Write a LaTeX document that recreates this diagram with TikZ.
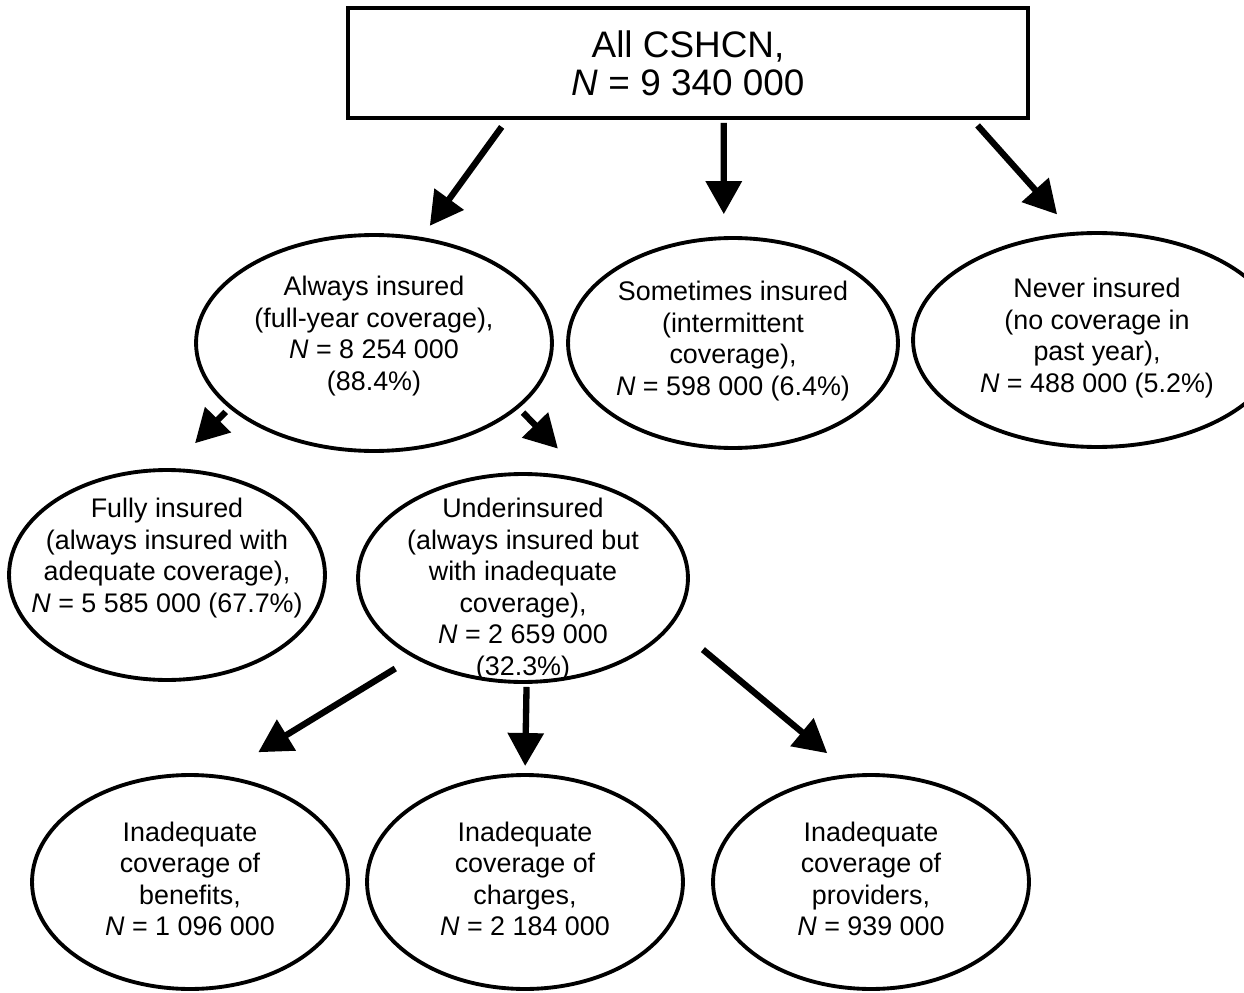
\documentclass[tikz,border=0pt]{standalone}
\usepackage{fontspec}
\setmainfont{Liberation Sans}
\usetikzlibrary{arrows.meta,shapes.geometric}

% Text in der Ellipse, ohne die Ellipse zu vergroessern
\newcommand{\ovaltext}[2][0cm]{\smash{\raisebox{#1}{\makebox[0pt]{\begin{tabular}{@{}c@{}}#2\end{tabular}}}}}

\tikzset{
	oval/.style={draw, ellipse, line width=2.2pt, inner sep=0pt, outer sep=0pt,
		font=\fontsize{15.3}{18}\selectfont},
	pfeil/.style={line width=3.6pt, -{Triangle[length=0.66cm, width=0.7cm]}},
}

\begin{document}
\begin{tikzpicture}[x=0.02cm, y=-0.02cm]
	\useasboundingbox (0,0) rectangle (1244,993);
	% Kasten oben
	\node[draw, line width=2.4pt, minimum width=13.6cm, minimum height=2.2cm,
	inner sep=0pt, outer sep=0pt, align=center,
	font=\fontsize{21}{21.5}\selectfont] (all) at (688,63) {All CSHCN,\\\textit{N} = 9 340 000};

	% Zweite Ebene
	\node[oval, minimum width=7.12cm, minimum height=4.32cm] (always) at (374,343)
	{\ovaltext{Always insured\\(full-year coverage),\\\textit{N} = 8 254 000\\(88.4\%)}};
	\node[oval, minimum width=6.6cm, minimum height=4.2cm] (sometimes) at (733,343)
	{\ovaltext[-0.1cm]{Sometimes insured\\(intermittent\\coverage),\\\textit{N} = 598 000 (6.4\%)}};
	\node[oval, minimum width=7.36cm, minimum height=4.28cm] (never) at (1097,340)
	{\ovaltext[-0.1cm]{Never insured\\(no coverage in\\past year),\\\textit{N} = 488 000 (5.2\%)}};

	% Dritte Ebene
	\node[oval, minimum width=6.32cm, minimum height=4.2cm] (fully) at (167,575)
	{\ovaltext[0.2cm]{Fully insured\\(always insured with\\adequate coverage),\\\textit{N} = 5 585 000 (67.7\%)}};
	\node[oval, minimum width=6.6cm, minimum height=4.16cm] (under) at (523,578)
	{\ovaltext[-0.37cm]{Underinsured\\(always insured but\\with inadequate\\coverage),\\\textit{N} = 2 659 000\\(32.3\%)}};

	% Unterste Ebene
	\node[oval, minimum width=6.32cm, minimum height=4.28cm] (benefits) at (190,882)
	{\ovaltext[-0.13cm]{Inadequate\\coverage of\\benefits,\\\textit{N} = 1 096 000}};
	\node[oval, minimum width=6.32cm, minimum height=4.28cm] (charges) at (525,882)
	{\ovaltext[-0.13cm]{Inadequate\\coverage of\\charges,\\\textit{N} = 2 184 000}};
	\node[oval, minimum width=6.32cm, minimum height=4.28cm] (providers) at (871,882)
	{\ovaltext[-0.13cm]{Inadequate\\coverage of\\providers,\\\textit{N} = 939 000}};

	% Pfeile
	\draw[pfeil, shorten <=0.22cm, shorten >=0.32cm] (all.-163.1) -- (always.66.8);
	\draw[pfeil, shorten <=0.1cm, shorten >=0.48cm] (all.-57.5) -- (sometimes.95.45);
	\draw[pfeil, shorten <=0.2cm, shorten >=0.52cm] (all.-11.4) -- (never.102);
	\draw[pfeil, shorten <=0.14cm, shorten >=0.75cm] (always.204.1) -- (fully.89.6);
	\draw[pfeil, shorten <=0.16cm, shorten >=0.97cm] (always.-24.2) -- (under.54.1);
	\draw[pfeil, shorten <=0.46cm, shorten >=0.94cm] (under.-144.3) -- (benefits.75.2);
	\draw[pfeil, shorten <=0.1cm, shorten >=0.18cm] (under.-88.9) -- (charges.90);
	\draw[pfeil, shorten <=0.82cm, shorten >=0.7cm] (under.-17) -- (providers.99.6);
\end{tikzpicture}
\end{document}
